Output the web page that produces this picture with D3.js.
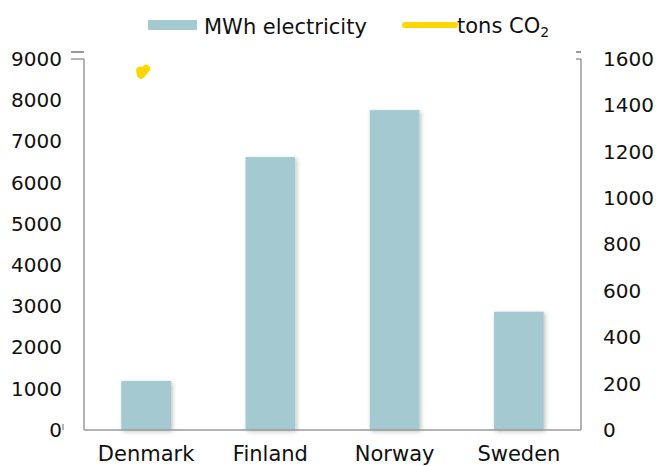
<!DOCTYPE html>
<html>
<head>
<meta charset="utf-8">
<script src="https://cdn.jsdelivr.net/npm/d3@7"></script>
<style>
  html, body { margin: 0; padding: 0; background: #fff; }
  svg { display: block; }
</style>
</head>
<body>
<div id="chart"></div>
<script>
// chart data
const countries = ["Denmark", "Finland", "Norway", "Sweden"];
const mwhElectricity = [1190, 6620, 7760, 2870];
const tonsCO2 = [1545, null, null, null];
const leftTicks = [0, 1000, 2000, 3000, 4000, 5000, 6000, 7000, 8000, 9000];
const rightTicks = [0, 200, 400, 600, 800, 1000, 1200, 1400, 1600];

const width = 661, height = 466;
const margin = {top: 59, right: 80, bottom: 36, left: 84};
const font = "'DejaVu Sans', Verdana, sans-serif";
const barColor = "#a5c9d0";
const lineColor = "#ffd600";
const axisColor = "#9a9a9a";
const numSize = 20, textSize = 21;

const svg = d3.select("#chart").append("svg")
    .attr("width", width)
    .attr("height", height)
    .attr("font-family", font);

const defs = svg.append("defs");
const shadow = defs.append("filter").attr("id", "shadow")
    .attr("x", "-20%").attr("y", "-20%").attr("width", "140%").attr("height", "140%");
shadow.append("feDropShadow")
    .attr("dx", 1.5).attr("dy", 1.5).attr("stdDeviation", 2)
    .attr("flood-color", "#000").attr("flood-opacity", 0.25);

const plotW = width - margin.left - margin.right;
const plotH = height - margin.top - margin.bottom;

const x = d3.scaleBand().domain(countries).range([0, plotW]).paddingInner(0.6).paddingOuter(0.3);
const yLeft = d3.scaleLinear().domain([0, 9000]).range([plotH, 0]);
const yRight = d3.scaleLinear().domain([0, 1600]).range([plotH, 0]);

const g = svg.append("g").attr("transform", `translate(${margin.left},${margin.top})`);

// bars
g.selectAll(".bar")
    .data(countries.map((c, i) => ({c, v: mwhElectricity[i]})))
    .join("rect")
    .attr("class", "bar")
    .attr("x", d => x(d.c))
    .attr("y", d => yLeft(d.v))
    .attr("width", x.bandwidth())
    .attr("height", d => plotH - yLeft(d.v))
    .attr("fill", barColor)
    .attr("filter", "url(#shadow)");

// CO2 series (only one valid point)
const pts = countries.map((c, i) => ({c, v: tonsCO2[i]})).filter(d => d.v != null);
g.selectAll(".co2")
    .data(pts)
    .join("path")
    .attr("class", "co2")
    .attr("d", d => {
        const cx = x(d.c) + x.bandwidth() / 2 - 3, cy = yRight(d.v);
        return `M${cx - 3},${cy - 1}L${cx - 2},${cy + 3}L${cx + 3},${cy - 3}`;
    })
    .attr("fill", "none")
    .attr("stroke", lineColor)
    .attr("stroke-width", 8)
    .attr("stroke-linecap", "round")
    .attr("stroke-linejoin", "round");

// left axis
const leftAxis = g.append("g")
    .call(d3.axisLeft(yLeft).tickValues(leftTicks).tickFormat(d3.format("d")).tickSize(0).tickPadding(22));
leftAxis.select(".domain").remove();
leftAxis.selectAll("text").attr("font-size", numSize).attr("fill", "#111").attr("font-family", font);
g.append("line").attr("x1", 0).attr("x2", 0).attr("y1", 0).attr("y2", plotH)
    .attr("stroke", axisColor).attr("stroke-width", 1.5);
g.append("line").attr("x1", -13).attr("x2", 0).attr("y1", 0).attr("y2", 0)
    .attr("stroke", axisColor).attr("stroke-width", 1.5);
g.append("line").attr("x1", -13).attr("x2", 0).attr("y1", -7).attr("y2", -7)
    .attr("stroke", axisColor).attr("stroke-width", 2);
g.append("line").attr("x1", -21).attr("x2", -21).attr("y1", plotH - 6).attr("y2", plotH)
    .attr("stroke", axisColor).attr("stroke-width", 1.5);

// right axis
const rightAxis = g.append("g").attr("transform", `translate(${plotW},0)`)
    .call(d3.axisRight(yRight).tickValues(rightTicks).tickFormat(d3.format("d")).tickSize(0).tickPadding(22));
rightAxis.select(".domain").remove();
rightAxis.selectAll("text").attr("font-size", numSize).attr("fill", "#111").attr("font-family", font);
g.append("line").attr("x1", plotW).attr("x2", plotW).attr("y1", 0).attr("y2", plotH)
    .attr("stroke", axisColor).attr("stroke-width", 1.5);
g.append("line").attr("x1", plotW - 5).attr("x2", plotW).attr("y1", 0).attr("y2", 0)
    .attr("stroke", axisColor).attr("stroke-width", 1.5);
g.append("line").attr("x1", plotW - 5).attr("x2", plotW).attr("y1", -7).attr("y2", -7)
    .attr("stroke", axisColor).attr("stroke-width", 2);

// bottom axis
const bottomAxis = g.append("g").attr("transform", `translate(0,${plotH})`)
    .call(d3.axisBottom(x).tickSize(0).tickPadding(16));
bottomAxis.select(".domain").remove();
bottomAxis.selectAll("text").attr("font-size", textSize).attr("fill", "#111").attr("font-family", font);
g.append("line").attr("x1", 0).attr("x2", plotW).attr("y1", plotH).attr("y2", plotH)
    .attr("stroke", axisColor).attr("stroke-width", 1.5);

// legend
const legend = svg.append("g").attr("font-size", textSize).attr("fill", "#111");
legend.append("rect").attr("x", 148).attr("y", 20).attr("width", 49).attr("height", 10).attr("fill", barColor);
legend.append("text").attr("x", 204).attr("y", 34).text("MWh electricity");
legend.append("line").attr("x1", 405).attr("x2", 455).attr("y1", 25).attr("y2", 25)
    .attr("stroke", lineColor).attr("stroke-width", 6).attr("stroke-linecap", "round");
const co2Label = legend.append("text").attr("x", 457).attr("y", 33);
co2Label.append("tspan").text("tons CO");
co2Label.append("tspan").attr("font-size", 14).attr("dy", 4).text("2");
</script>
</body>
</html>
